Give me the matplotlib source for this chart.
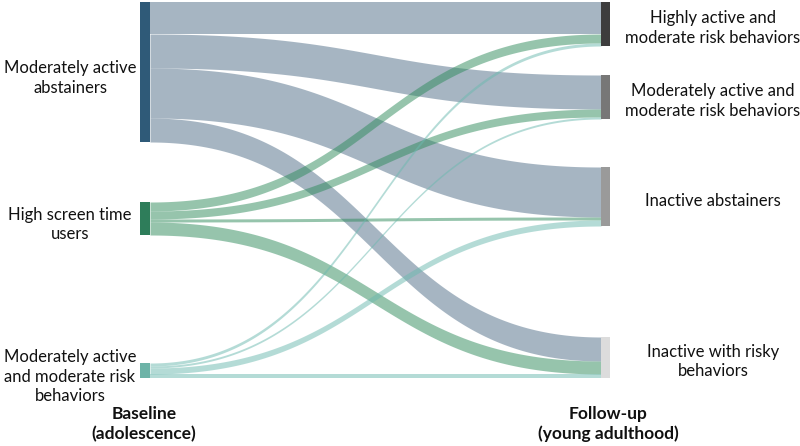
import numpy as np
import matplotlib.pyplot as plt

# baseline (left) and follow-up (right) profiles
sources = ["Moderately active\nabstainers",
           "High screen time\nusers",
           "Moderately active\nand moderate risk\nbehaviors"]
targets = ["Highly active and\nmoderate risk behaviors",
           "Moderately active and\nmoderate risk behaviors",
           "Inactive abstainers",
           "Inactive with risky\nbehaviors"]

# flow sizes, rows = source, cols = target
flows = np.array([
    [32, 34, 50, 24],
    [9, 8, 3, 13],
    [3, 2, 6, 4],
])

source_colors = ["#2f5a78", "#2e7d5a", "#6db3a7"]
link_colors = ["#4f6d87", "#2e8b5b", "#6bb9af"]
target_colors = ["#3d3d3d", "#777777", "#9a9a9a", "#dcdcdc"]

# layout (pixels)
W, H = 800, 446
x_left, x_right, node_w = 140, 601, 10
src_top = [2, 202, 363]
tgt_top = [2, 75, 167, 337]
scale = 1.0

fig = plt.figure(figsize=(W / 100, H / 100), dpi=100)
ax = fig.add_axes([0, 0, 1, 1])
ax.set_xlim(0, W)
ax.set_ylim(H, 0)
ax.axis("off")

plt.rcParams['font.family'] = ['Lato', 'DejaVu Sans']
fs = 12


def band(x0, x1, y0a, y0b, y1a, y1b, color):
    t = np.linspace(0, 1, 200)
    xm = (x0 + x1) / 2
    xs = (1 - t) ** 3 * x0 + 3 * (1 - t) ** 2 * t * xm + 3 * (1 - t) * t ** 2 * xm + t ** 3 * x1
    top = (1 - t) ** 3 * y0a + 3 * (1 - t) ** 2 * t * y0a + 3 * (1 - t) * t ** 2 * y1a + t ** 3 * y1a
    bot = (1 - t) ** 3 * y0b + 3 * (1 - t) ** 2 * t * y0b + 3 * (1 - t) * t ** 2 * y1b + t ** 3 * y1b
    ax.fill_between(xs, top, bot, color=color, alpha=0.5, lw=0)


src_off = list(src_top)
tgt_off = list(tgt_top)
for i in range(len(sources)):
    for j in range(len(targets)):
        h = flows[i, j] * scale
        band(x_left + node_w, x_right,
             src_off[i], src_off[i] + h,
             tgt_off[j], tgt_off[j] + h,
             link_colors[i])
        src_off[i] += h
        tgt_off[j] += h

# nodes
src_tot = flows.sum(axis=1) * scale
tgt_tot = flows.sum(axis=0) * scale
for i, name in enumerate(sources):
    ax.add_patch(plt.Rectangle((x_left, src_top[i]), node_w, src_tot[i],
                               color=source_colors[i], lw=0))
    ax.text(70, src_top[i] + src_tot[i] / 2 + 6, name, ha="center", va="center",
            fontsize=fs, linespacing=1.3, color="#111111")
for j, name in enumerate(targets):
    ax.add_patch(plt.Rectangle((x_right, tgt_top[j]), node_w - 1, tgt_tot[j],
                               color=target_colors[j], lw=0))
    ax.text(713, tgt_top[j] + tgt_tot[j] / 2 + 4, name, ha="center", va="center",
            fontsize=fs, linespacing=1.3, color="#111111")

ax.text(144, 424, "Baseline\n(adolescence)", ha="center", va="center",
        fontsize=12.5, fontweight="bold", linespacing=1.3, color="#111111")
ax.text(608, 424, "Follow-up\n(young adulthood)", ha="center", va="center",
        fontsize=12.5, fontweight="bold", linespacing=1.3, color="#111111")

fig.savefig("out.png", dpi=100)
